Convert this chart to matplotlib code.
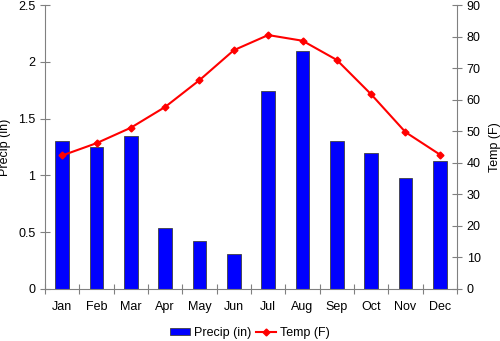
import matplotlib.pyplot as plt
import numpy as np

plt.rcParams['font.family'] = ['Liberation Sans', 'DejaVu Sans']
plt.rcParams['font.size'] = 9

months = ['Jan', 'Feb', 'Mar', 'Apr', 'May', 'Jun',
          'Jul', 'Aug', 'Sep', 'Oct', 'Nov', 'Dec']
precip = [1.30, 1.25, 1.35, 0.54, 0.42, 0.31, 1.74, 2.10, 1.30, 1.20, 0.98, 1.13]
temp = [42.3, 46.2, 51.1, 57.7, 66.2, 75.7, 80.5, 78.7, 72.6, 61.7, 49.7, 42.6]

x = np.arange(len(months))
grey = '#808080'

fig = plt.figure(figsize=(5, 3.41), dpi=100)
ax = fig.add_axes([0.09, 0.153, 0.824, 0.832])
ax2 = ax.twinx()

bars = ax.bar(x, precip, width=0.4, color='#0000ff', edgecolor='#404040',
              linewidth=0.6, label='Precip (in)', zorder=2)
line, = ax2.plot(x, temp, color='#ff0000', lw=1.5, marker='D', ms=3.5,
                 label='Temp (F)', zorder=3)

ax.set_xlim(-0.5, 11.5)
ax.set_ylim(0, 2.5)
ax.set_yticks([0, 0.5, 1, 1.5, 2, 2.5])
ax.set_yticklabels(['0', '0.5', '1', '1.5', '2', '2.5'])
ax2.set_ylim(0, 90)
ax2.set_yticks(range(0, 91, 10))

# month labels centred, tick marks between months
ax.set_xticks(np.arange(-0.5, 12, 1))
ax.set_xticklabels([])
ax.set_xticks(x, minor=True)
ax.set_xticklabels(months, minor=True)
ax.tick_params(axis='x', which='minor', length=0, pad=9)
ax.tick_params(axis='x', which='major', direction='inout', length=7, color=grey)
ax.tick_params(axis='y', direction='inout', length=7, color=grey)
ax2.tick_params(axis='y', direction='inout', length=7, color=grey)

for a in (ax, ax2):
    a.spines['top'].set_visible(False)
    for s in ('left', 'right', 'bottom'):
        a.spines[s].set_color(grey)
ax.spines['right'].set_visible(False)
ax2.spines['left'].set_visible(False)
ax2.spines['bottom'].set_visible(False)

ax.set_ylabel('Precip (in)')
ax.yaxis.set_label_coords(-0.083, 0.5)
ax2.set_ylabel('Temp (F)', labelpad=6)

fig.legend([bars, line], ['Precip (in)', 'Temp (F)'], loc='center',
           bbox_to_anchor=(0.5, 0.024), ncol=2, frameon=False,
           handlelength=1.6, handleheight=0.5, columnspacing=0.4,
           handletextpad=0.3)

fig.savefig('out.png', dpi=100)
